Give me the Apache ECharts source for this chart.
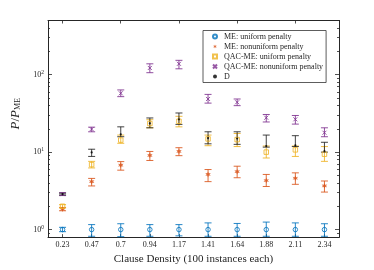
<!DOCTYPE html>
<html>
<head>
<meta charset="utf-8">
<script src="https://cdn.jsdelivr.net/npm/echarts@6/dist/echarts.min.js"></script>
<style>html,body{margin:0;padding:0;background:#fff}#c{width:374px;height:270px}</style>
</head>
<body>
<div id="c"></div>
<script>
// ---- data ----
const categories = ['0.23','0.47','0.7','0.94','1.17','1.41','1.64','1.88','2.11','2.34'];

const meUniform     = [1.0, 1.0, 1.0, 1.0, 1.0, 1.0, 1.0, 1.0, 1.0, 1.0];
const meUniformLow  = [0.94, 0.82, 0.81, 0.82, 0.83, 0.82, 0.82, 0.82, 0.82, 0.82];
const meUniformHigh = [1.07, 1.16, 1.19, 1.16, 1.16, 1.22, 1.20, 1.25, 1.22, 1.19];

const meNonuniform     = [1.83, 4.16, 6.78, 9.08, 10.2, 5.15, 5.6, 4.3, 4.6, 3.66];
const meNonuniformLow  = [1.75, 3.66, 5.85, 7.8, 9.0, 4.16, 4.67, 3.6, 3.84, 3.05];
const meNonuniformHigh = [1.93, 4.58, 7.54, 10.2, 11.4, 5.96, 6.58, 5.15, 5.4, 4.24];

const qacUniform     = [2.0, 6.9, 14.3, 23.4, 25.0, 14.8, 14.5, 10.0, 10.7, 9.4];
const qacUniformLow  = [1.9, 6.25, 13.0, 20.6, 21.2, 12.1, 11.8, 8.4, 8.8, 7.6];
const qacUniformHigh = [2.1, 7.6, 16.6, 26.2, 29.0, 16.6, 17.4, 12.0, 12.0, 11.8];

const qacNonuniform     = [2.87, 19.8, 57.4, 122, 138, 48.5, 44, 27.8, 26.5, 17.8];
const qacNonuniformLow  = [2.75, 18.3, 52, 106, 119, 42.9, 39.8, 24.5, 23.0, 15.8];
const qacNonuniformHigh = [3.0, 21, 63.5, 138, 153, 55.6, 48.5, 30.6, 29.7, 20.6];

const dValues = [2.87, 9.9, 17.0, 23.5, 26.5, 15.2, 15.0, 12.0, 12.2, 10.3];
const dLow    = [2.8, 8.8, 15.8, 20.6, 22.8, 12.8, 12.6, 11.6, 11.8, 10.0];
const dHigh   = [2.95, 10.9, 21.2, 27.6, 32.0, 18.3, 18.3, 16.6, 16.3, 13.4];

const yMajorTicks = [1, 10, 100];
const yMinorTicks = [0.9, 2,3,4,5,6,7,8,9, 20,30,40,50,60,70,80,90, 200,300,400];

const names = ['ME: uniform penalty','ME: nonuniform penalty','QAC-ME: uniform penalty','QAC-ME: nonuniform penalty','D'];
const colors = ['#0072BD','#D95319','#EDB120','#7E2F8E','#000000'];

// ---- chart ----
const FONT = 'Liberation Serif';
const AX = '#262626';
const chart = echarts.init(document.getElementById('c'), null, {renderer:'canvas'});

const circlePath = 'path://M10,5 A5,5 0 1 1 0,5 A5,5 0 1 1 10,5 Z';
const starPath = 'path://M5,0 L6.2,3 L9.3,2.5 L7.4,5 L9.3,7.5 L6.2,7 L5,10 L3.8,7 L0.7,7.5 L2.6,5 L0.7,2.5 L3.8,3 Z';
const squarePath = 'path://M0,0 L10,0 L10,10 L0,10 Z';
const xPath = 'path://M0,0 L10,10 M10,0 L0,10';

function errSeries(vals, lo, hi, color){
  return {
    type:'custom', silent:true, z:2,
    data: vals.map((v,i)=>[i, lo[i], hi[i]]),
    renderItem:function(params, api){
      const x = api.value(0);
      const a = api.coord([x, api.value(1)]);
      const b = api.coord([x, api.value(2)]);
      const w = 3.5;
      const st = {stroke:color, lineWidth:1, opacity:0.85};
      return {type:'group', children:[
        {type:'line', shape:{x1:a[0],y1:a[1],x2:b[0],y2:b[1]}, style:st},
        {type:'line', shape:{x1:a[0]-w,y1:a[1],x2:a[0]+w,y2:a[1]}, style:st},
        {type:'line', shape:{x1:b[0]-w,y1:b[1],x2:b[0]+w,y2:b[1]}, style:st}
      ]};
    },
    encode:{x:0, y:[1,2]}
  };
}

function yAxisDef(pos, tickVals, len, showLabel){
  return {
    type:'log', logBase:10, min:0.8, max:500, position:pos,
    axisLine:{show:true, lineStyle:{color:AX, width:1}},
    axisTick:{show:true, inside:true, length:len, customValues:tickVals, lineStyle:{color:AX, width:0.8}},
    axisLabel:{show:showLabel, customValues: showLabel ? yMajorTicks : undefined, margin:4,
      fontFamily:FONT, fontSize:8, color:AX,
      formatter:function(v){ const e = Math.round(Math.log10(v)); return '10{s|' + e + '}'; },
      rich:{s:{fontSize:5.5, fontFamily:FONT, color:AX, verticalAlign:'top', padding:[0,0,5,0]}}},
    splitLine:{show:false}, minorTick:{show:false}, minorSplitLine:{show:false}
  };
}

const yAxes = [
  Object.assign(yAxisDef('left', yMajorTicks, 4, true), {
    name:'{i|P}{n|/}{i|P}{sub|ME}', nameLocation:'middle', nameGap:22, nameRotate:90,
    nameTextStyle:{padding:[0,0,0,30], rich:{
      i:{fontFamily:FONT, fontStyle:'italic', fontSize:13, color:AX},
      n:{fontFamily:FONT, fontSize:13, color:AX},
      sub:{fontFamily:FONT, fontSize:8, color:AX, verticalAlign:'bottom', padding:[4,0,0,0]}
    }}
  }),
  yAxisDef('left', yMinorTicks, 2, false),
  yAxisDef('right', yMajorTicks, 4, false),
  yAxisDef('right', yMinorTicks, 2, false)
];

const option = {
  backgroundColor:'#fff',
  animation:false,
  grid:{left:48, right:35, top:20.5, bottom:30, containLabel:false},
  xAxis:[
    {type:'category', data:categories, position:'bottom', boundaryGap:true,
     axisLine:{show:true, lineStyle:{color:AX, width:1}},
     axisTick:{show:true, inside:true, alignWithLabel:true, length:3, lineStyle:{color:AX, width:0.8}},
     axisLabel:{fontFamily:FONT, fontSize:8, color:AX, margin:4},
     name:'Clause Density (100 instances each)', nameLocation:'middle', nameGap:13,
     nameTextStyle:{fontFamily:FONT, fontSize:11, color:AX, verticalAlign:'top'}},
    {type:'category', data:categories, position:'top', boundaryGap:true,
     axisLine:{show:true, lineStyle:{color:AX, width:1}},
     axisTick:{show:true, inside:true, alignWithLabel:true, length:3, lineStyle:{color:AX, width:0.8}},
     axisLabel:{show:false}}
  ],
  yAxis: yAxes,
  legend:{
    orient:'vertical', left:203, top:30.5,
    backgroundColor:'#fff', borderColor:'#333', borderWidth:0.8,
    padding:[2,3,2,9], itemGap:2, itemWidth:8, itemHeight:4,
    textStyle:{fontFamily:FONT, fontSize:8, color:AX, lineHeight:8},
    data: names
  },
  series:[
    errSeries(meUniform, meUniformLow, meUniformHigh, colors[0]),
    errSeries(meNonuniform, meNonuniformLow, meNonuniformHigh, colors[1]),
    errSeries(qacUniform, qacUniformLow, qacUniformHigh, colors[2]),
    errSeries(qacNonuniform, qacNonuniformLow, qacNonuniformHigh, colors[3]),
    errSeries(dValues, dLow, dHigh, '#222'),
    {name:names[0], type:'scatter', z:3, symbol:circlePath, symbolSize:4.5,
     itemStyle:{color:'rgba(255,255,255,0)', borderColor:colors[0], borderWidth:1}, data:meUniform},
    {name:names[1], type:'scatter', z:3, symbol:starPath, symbolSize:5.5,
     itemStyle:{color:colors[1]}, data:meNonuniform},
    {name:names[2], type:'scatter', z:3, symbol:squarePath, symbolSize:4.5,
     itemStyle:{color:'rgba(255,255,255,0)', borderColor:colors[2], borderWidth:1}, data:qacUniform},
    {name:names[3], type:'scatter', z:3, symbol:xPath, symbolSize:4,
     itemStyle:{color:'rgba(255,255,255,0)', borderColor:colors[3], borderWidth:1}, data:qacNonuniform},
    {name:names[4], type:'scatter', z:3, symbol:'circle', symbolSize:2.2,
     itemStyle:{color:colors[4]}, data:dValues}
  ]
};
chart.setOption(option);
</script>
</body>
</html>
